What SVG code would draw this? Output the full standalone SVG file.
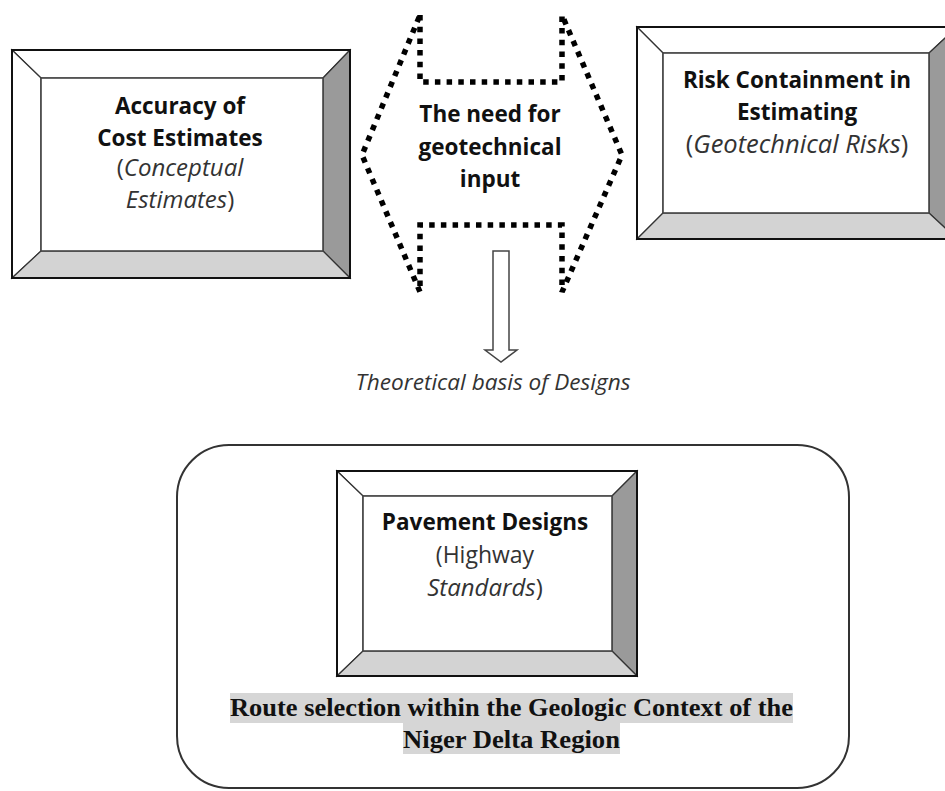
<svg xmlns="http://www.w3.org/2000/svg" width="945" height="791" viewBox="0 0 945 791">
<style>
.out{fill:none;stroke:#111;stroke-width:2}
.inn{fill:#fff;stroke:#444;stroke-width:1.6}
.top{fill:#fff;stroke:#333;stroke-width:1.2}
.rgt{fill:#9a9a9a;stroke:#333;stroke-width:1.2}
.bot{fill:#d3d3d3;stroke:#333;stroke-width:1.2}
.b{font-family:"Open Sans","Noto Sans",sans-serif;font-weight:bold;font-size:22.5px;fill:#111;text-anchor:middle}
.n{font-family:"Open Sans","Noto Sans",sans-serif;font-size:24px;fill:#333;text-anchor:middle}
.i{font-style:italic}
.dots{fill:none;stroke:#000;stroke-width:5.5;stroke-dasharray:5.5 6.2}
.ser{font-family:"Liberation Serif","Times New Roman",serif;font-weight:bold;font-size:26px;fill:#111;text-anchor:middle}
</style>
<rect width="945" height="791" fill="#fff"/>

<g id="accuracy">
<polygon class="top" points="12,50 350,50 323,78 41,78"/>
<polygon class="top" points="12,50 41,78 41,251 12,278"/>
<polygon class="rgt" points="350,50 350,278 323,251 323,78"/>
<polygon class="bot" points="12,278 41,251 323,251 350,278"/>
<rect class="inn" x="41" y="78" width="282" height="173"/>
<rect class="out" x="12" y="50" width="338" height="228"/>
<text class="b" x="180" y="114">Accuracy of</text>
<text class="b" x="180" y="146">Cost Estimates</text>
<text class="n" x="180" y="176">(<tspan class="i">Conceptual</tspan></text>
<text class="n" x="180" y="208"><tspan class="i">Estimates</tspan>)</text>
</g>

<g id="need">
<path class="dots" d="M420,15 L420,82 L562,82 L562,15 L622,155 L562,292 L562,225 L420,225 L420,292 L362,155 Z"/>
<text class="b" x="490" y="122">The need for</text>
<text class="b" x="490" y="155">geotechnical</text>
<text class="b" x="490" y="187">input</text>
</g>

<g id="risk">
<polygon class="top" points="637,27 957,27 929,53 663,53"/>
<polygon class="top" points="637,27 663,53 663,213 637,239"/>
<polygon class="rgt" points="957,27 957,239 929,213 929,53"/>
<polygon class="bot" points="637,239 663,213 929,213 957,239"/>
<rect class="inn" x="663" y="53" width="266" height="160"/>
<rect class="out" x="637" y="27" width="320" height="212"/>
<text class="b" x="797" y="88">Risk Containment in</text>
<text class="b" x="797" y="120">Estimating</text>
<text class="n" x="797" y="153" style="font-size:25.5px">(<tspan class="i">Geotechnical Risks</tspan>)</text>
</g>

<g id="connectors">
<path d="M493,251 L509,251 L509,350 L517,350 L501,362 L485,350 L493,350 Z" fill="#fff" stroke="#444" stroke-width="1.5"/>
<text class="n i" x="493" y="390" style="font-size:22.6px">Theoretical basis of Designs</text>
</g>

<g id="route">
<rect x="177" y="445" width="672" height="343" rx="52" ry="52" fill="none" stroke="#333" stroke-width="2"/>
<rect x="230" y="693" width="563" height="30" fill="#d6d6d6"/>
<rect x="403" y="723" width="217" height="31" fill="#d6d6d6"/>
<text class="ser" x="511.5" y="716" textLength="563" lengthAdjust="spacingAndGlyphs">Route selection within the Geologic Context of the</text>
<text class="ser" x="511.5" y="748" textLength="217" lengthAdjust="spacingAndGlyphs">Niger Delta Region</text>
</g>

<g id="pavement">
<polygon class="top" points="337,471 637,471 612,496 363,496"/>
<polygon class="top" points="337,471 363,496 363,651 337,676"/>
<polygon class="rgt" points="637,471 637,676 612,651 612,496"/>
<polygon class="bot" points="337,676 363,651 612,651 637,676"/>
<rect class="inn" x="363" y="496" width="249" height="155"/>
<rect class="out" x="337" y="471" width="300" height="205"/>
<text class="b" x="485" y="530">Pavement Designs</text>
<text class="n" x="485" y="563" style="font-size:23px">(Highway</text>
<text class="n" x="485" y="596" style="font-size:24px"><tspan class="i">Standards</tspan>)</text>
</g>
</svg>
